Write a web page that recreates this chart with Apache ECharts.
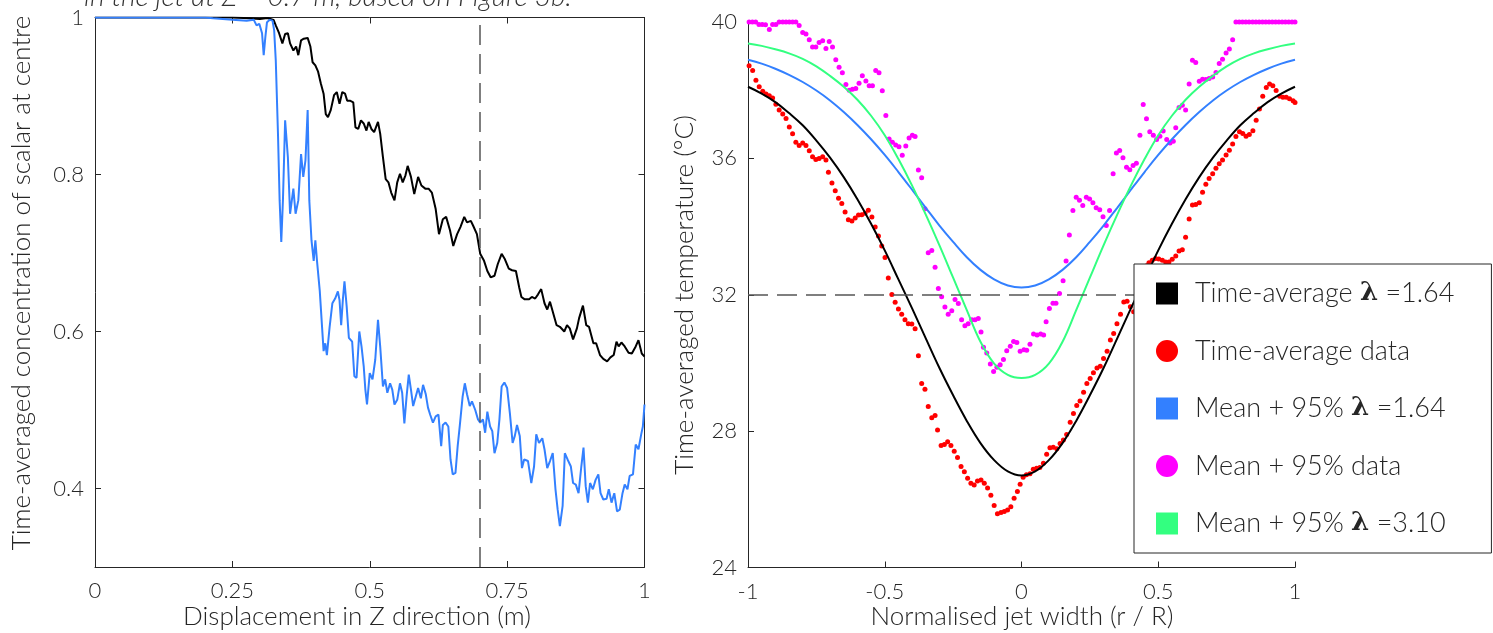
<!DOCTYPE html>
<html><head><meta charset="utf-8">
<script src="https://cdn.jsdelivr.net/npm/echarts@6/dist/echarts.min.js"></script>
<style>html,body{margin:0;padding:0;background:#fff}#c{width:1493px;height:633px}</style>
</head><body><div id="c"></div>
<script>
// ---------- LEFT PANEL DATA: [displacement (m), concentration] ----------
const timeAvgConc = [[0,1],[0.1,1],[0.2,1],[0.25,1],[0.28,0.999],[0.30,0.998],[0.31,0.999],[0.315,0.999],[0.325,0.997],[0.329,0.990],[0.335,0.980],[0.341,0.967],[0.346,0.979],[0.351,0.980],[0.355,0.967],[0.361,0.958],[0.366,0.963],[0.370,0.952],[0.375,0.971],[0.380,0.973],[0.387,0.974],[0.392,0.963],[0.396,0.943],[0.401,0.939],[0.406,0.931],[0.411,0.916],[0.416,0.903],[0.420,0.877],[0.424,0.873],[0.429,0.882],[0.435,0.901],[0.440,0.905],[0.445,0.890],[0.450,0.905],[0.455,0.903],[0.459,0.894],[0.464,0.894],[0.470,0.892],[0.474,0.860],[0.479,0.858],[0.484,0.869],[0.489,0.865],[0.494,0.856],[0.498,0.867],[0.503,0.858],[0.508,0.854],[0.515,0.867],[0.519,0.852],[0.524,0.822],[0.529,0.794],[0.534,0.790],[0.539,0.777],[0.545,0.767],[0.550,0.790],[0.555,0.801],[0.560,0.790],[0.565,0.799],[0.569,0.811],[0.575,0.797],[0.581,0.775],[0.588,0.797],[0.594,0.786],[0.601,0.782],[0.607,0.782],[0.613,0.777],[0.620,0.756],[0.626,0.724],[0.633,0.743],[0.639,0.746],[0.646,0.729],[0.652,0.709],[0.659,0.724],[0.665,0.733],[0.672,0.746],[0.677,0.739],[0.684,0.741],[0.688,0.735],[0.695,0.724],[0.701,0.699],[0.708,0.690],[0.714,0.677],[0.720,0.669],[0.727,0.671],[0.733,0.686],[0.740,0.699],[0.746,0.692],[0.753,0.680],[0.759,0.678],[0.766,0.677],[0.772,0.656],[0.776,0.644],[0.782,0.641],[0.790,0.641],[0.795,0.644],[0.801,0.642],[0.806,0.647],[0.812,0.654],[0.818,0.636],[0.823,0.628],[0.828,0.638],[0.834,0.623],[0.840,0.608],[0.846,0.606],[0.854,0.600],[0.859,0.608],[0.864,0.604],[0.870,0.590],[0.877,0.604],[0.881,0.617],[0.888,0.633],[0.894,0.608],[0.899,0.606],[0.907,0.585],[0.912,0.585],[0.919,0.570],[0.925,0.565],[0.932,0.562],[0.938,0.567],[0.944,0.570],[0.949,0.587],[0.953,0.581],[0.958,0.586],[0.964,0.581],[0.971,0.573],[0.977,0.572],[0.984,0.581],[0.989,0.589],[0.995,0.572],[1.0,0.568]];

const meanPlus95Conc = [[0,1],[0.1,1],[0.2,1],[0.215,0.999],[0.25,0.997],[0.276,0.996],[0.289,0.997],[0.294,0.990],[0.299,0.992],[0.304,0.980],[0.307,0.952],[0.310,0.975],[0.313,0.994],[0.318,0.997],[0.323,0.996],[0.326,0.984],[0.329,0.945],[0.333,0.852],[0.336,0.767],[0.339,0.714],[0.342,0.767],[0.346,0.869],[0.351,0.822],[0.355,0.750],[0.361,0.782],[0.365,0.750],[0.370,0.767],[0.375,0.826],[0.379,0.797],[0.383,0.818],[0.387,0.882],[0.390,0.767],[0.394,0.716],[0.398,0.690],[0.401,0.716],[0.404,0.690],[0.409,0.652],[0.412,0.653],[0.416,0.575],[0.419,0.585],[0.422,0.570],[0.427,0.606],[0.432,0.636],[0.437,0.642],[0.442,0.651],[0.445,0.640],[0.448,0.608],[0.451,0.640],[0.454,0.664],[0.458,0.632],[0.462,0.592],[0.468,0.587],[0.472,0.543],[0.476,0.541],[0.481,0.600],[0.485,0.581],[0.489,0.556],[0.492,0.526],[0.495,0.507],[0.500,0.547],[0.505,0.539],[0.510,0.564],[0.515,0.615],[0.519,0.581],[0.524,0.530],[0.528,0.539],[0.532,0.522],[0.537,0.534],[0.541,0.526],[0.545,0.507],[0.550,0.513],[0.555,0.534],[0.559,0.522],[0.563,0.483],[0.567,0.517],[0.571,0.545],[0.575,0.526],[0.579,0.505],[0.582,0.505],[0.588,0.528],[0.593,0.515],[0.597,0.532],[0.602,0.520],[0.606,0.503],[0.610,0.494],[0.615,0.484],[0.620,0.492],[0.625,0.494],[0.630,0.454],[0.633,0.481],[0.638,0.484],[0.643,0.479],[0.647,0.437],[0.651,0.418],[0.656,0.420],[0.660,0.454],[0.664,0.481],[0.669,0.517],[0.673,0.534],[0.677,0.520],[0.682,0.505],[0.686,0.511],[0.692,0.500],[0.697,0.488],[0.701,0.484],[0.706,0.488],[0.710,0.471],[0.714,0.498],[0.719,0.479],[0.723,0.473],[0.727,0.445],[0.732,0.458],[0.736,0.488],[0.740,0.530],[0.745,0.535],[0.750,0.528],[0.755,0.496],[0.760,0.458],[0.764,0.467],[0.768,0.481],[0.773,0.467],[0.777,0.426],[0.781,0.437],[0.788,0.435],[0.794,0.407],[0.799,0.428],[0.803,0.469],[0.808,0.458],[0.814,0.464],[0.818,0.450],[0.823,0.426],[0.828,0.435],[0.833,0.445],[0.838,0.399],[0.842,0.373],[0.846,0.352],[0.851,0.378],[0.855,0.445],[0.860,0.437],[0.866,0.428],[0.870,0.407],[0.875,0.405],[0.880,0.394],[0.885,0.428],[0.889,0.452],[0.893,0.403],[0.897,0.382],[0.901,0.407],[0.906,0.399],[0.911,0.411],[0.916,0.418],[0.920,0.394],[0.925,0.386],[0.931,0.387],[0.935,0.399],[0.940,0.382],[0.945,0.394],[0.950,0.371],[0.955,0.373],[0.960,0.394],[0.964,0.405],[0.969,0.399],[0.973,0.416],[0.979,0.418],[0.984,0.456],[0.989,0.450],[0.994,0.469],[0.997,0.479],[1.0,0.507]];

const leftXTicks = [0, 0.25, 0.5, 0.75, 1];
const leftYTicks = [0.4, 0.6, 0.8, 1];
const markerZ = 0.7;

// ---------- RIGHT PANEL DATA ----------
const widthX = [-1,-0.95,-0.9,-0.85,-0.8,-0.75,-0.7,-0.65,-0.6,-0.55,-0.5,-0.45,-0.4,-0.35,-0.3,-0.25,-0.2,-0.15,-0.1,-0.05,0,0.05,0.1,0.15,0.2,0.25,0.3,0.35,0.4,0.45,0.5,0.55,0.6,0.65,0.7,0.75,0.8,0.85,0.9,0.95,1];
const fitTimeAvg164 = [38.10,37.90,37.65,37.33,36.97,36.52,36.02,35.45,34.80,34.08,33.30,32.45,31.60,30.72,29.85,29.05,28.30,27.65,27.15,26.82,26.70,26.82,27.15,27.65,28.30,29.05,29.85,30.72,31.60,32.45,33.30,34.08,34.80,35.45,36.02,36.52,36.97,37.33,37.65,37.90,38.10];
const fitMean164    = [38.89,38.78,38.63,38.45,38.24,37.99,37.70,37.36,36.98,36.56,36.10,35.60,35.08,34.55,34.03,33.55,33.10,32.73,32.45,32.27,32.21,32.27,32.45,32.73,33.10,33.55,34.03,34.55,35.08,35.60,36.10,36.56,36.98,37.36,37.70,37.99,38.24,38.45,38.63,38.78,38.89];
const fitMean310    = [39.37,39.30,39.20,39.08,38.92,38.70,38.42,38.10,37.72,37.25,36.68,35.98,35.20,34.35,33.45,32.50,31.55,30.62,29.98,29.65,29.56,29.65,29.98,30.62,31.55,32.50,33.45,34.35,35.20,35.98,36.68,37.25,37.72,38.10,38.42,38.70,38.92,39.08,39.20,39.30,39.37];

const timeAvgData = [[-0.996,38.72],[-0.983,38.58],[-0.971,38.29],[-0.959,38.10],[-0.946,37.97],[-0.934,37.89],[-0.922,37.84],[-0.910,37.77],[-0.898,37.59],[-0.886,37.42],[-0.873,37.30],[-0.861,37.17],[-0.849,36.92],[-0.837,36.72],[-0.825,36.47],[-0.813,36.38],[-0.800,36.45],[-0.788,36.38],[-0.776,36.22],[-0.764,36.05],[-0.752,35.97],[-0.740,36.00],[-0.727,36.05],[-0.715,35.95],[-0.706,35.59],[-0.693,35.28],[-0.681,35.05],[-0.669,34.83],[-0.657,34.68],[-0.645,34.43],[-0.633,34.20],[-0.620,34.16],[-0.608,34.25],[-0.596,34.34],[-0.584,34.35],[-0.572,34.39],[-0.560,34.48],[-0.547,34.28],[-0.535,33.99],[-0.523,33.72],[-0.511,33.43],[-0.499,33.09],[-0.487,32.49],[-0.474,32.01],[-0.462,31.78],[-0.450,31.58],[-0.438,31.43],[-0.426,31.27],[-0.414,31.15],[-0.401,31.14],[-0.389,31.00],[-0.377,30.21],[-0.365,29.40],[-0.353,29.23],[-0.341,28.72],[-0.328,28.39],[-0.316,28.46],[-0.307,28.03],[-0.294,27.58],[-0.282,27.61],[-0.270,27.69],[-0.258,27.58],[-0.246,27.41],[-0.234,27.23],[-0.221,26.96],[-0.209,26.81],[-0.197,26.62],[-0.185,26.47],[-0.173,26.42],[-0.161,26.54],[-0.148,26.57],[-0.136,26.47],[-0.124,26.33],[-0.112,26.12],[-0.100,25.82],[-0.088,25.58],[-0.075,25.61],[-0.063,25.64],[-0.051,25.69],[-0.039,25.78],[-0.027,26.03],[-0.015,26.23],[-0.005,26.44],[0.006,26.65],[0.018,26.72],[0.031,26.75],[0.043,26.88],[0.055,26.91],[0.067,26.93],[0.080,27.06],[0.092,27.32],[0.104,27.51],[0.116,27.53],[0.129,27.48],[0.141,27.64],[0.153,27.74],[0.165,27.90],[0.178,28.26],[0.190,28.52],[0.202,28.75],[0.214,28.88],[0.227,29.14],[0.239,29.40],[0.251,29.54],[0.263,29.71],[0.276,29.85],[0.288,29.90],[0.300,30.13],[0.313,30.34],[0.325,30.67],[0.337,30.86],[0.349,31.15],[0.362,31.43],[0.374,31.79],[0.386,31.81],[0.398,31.65],[0.410,31.50],[0.422,31.90],[0.434,32.30],[0.446,32.60],[0.458,32.85],[0.466,32.94],[0.478,33.01],[0.490,33.06],[0.502,33.05],[0.515,33.01],[0.527,32.96],[0.539,32.96],[0.551,33.04],[0.564,33.14],[0.576,33.28],[0.588,33.32],[0.600,33.69],[0.613,34.22],[0.625,34.63],[0.637,34.65],[0.650,34.70],[0.662,35.01],[0.674,35.24],[0.686,35.41],[0.699,35.55],[0.711,35.71],[0.723,35.84],[0.735,35.95],[0.748,36.10],[0.760,36.24],[0.772,36.42],[0.784,36.64],[0.797,36.78],[0.809,36.73],[0.821,36.65],[0.833,36.70],[0.846,36.81],[0.858,37.12],[0.870,37.45],[0.882,37.82],[0.895,38.08],[0.907,38.18],[0.919,38.13],[0.931,37.99],[0.944,37.82],[0.956,37.79],[0.968,37.79],[0.980,37.75],[0.993,37.69],[1.0,37.64]];

const meanPlus95Data = [[-0.996,40.0],[-0.984,40.0],[-0.972,40.0],[-0.960,39.93],[-0.948,39.93],[-0.936,39.92],[-0.922,39.78],[-0.910,39.93],[-0.898,39.93],[-0.886,40.0],[-0.873,40.0],[-0.861,40.0],[-0.849,40.0],[-0.837,40.0],[-0.825,40.0],[-0.813,39.9],[-0.800,39.69],[-0.788,39.65],[-0.776,39.48],[-0.764,39.27],[-0.752,39.27],[-0.740,39.40],[-0.727,39.45],[-0.715,39.22],[-0.703,39.43],[-0.691,39.27],[-0.679,38.89],[-0.667,38.67],[-0.655,38.51],[-0.642,38.17],[-0.630,38.00],[-0.618,38.03],[-0.606,38.05],[-0.594,38.20],[-0.582,38.42],[-0.569,38.27],[-0.557,38.13],[-0.545,38.13],[-0.533,38.58],[-0.521,38.51],[-0.509,37.98],[-0.496,37.26],[-0.484,36.57],[-0.472,36.47],[-0.460,36.39],[-0.448,36.34],[-0.436,36.09],[-0.423,36.36],[-0.411,36.60],[-0.399,36.68],[-0.389,36.64],[-0.377,35.66],[-0.365,35.43],[-0.353,34.52],[-0.341,33.23],[-0.328,33.30],[-0.316,32.81],[-0.304,32.18],[-0.292,31.94],[-0.280,31.64],[-0.268,31.43],[-0.255,31.53],[-0.243,31.86],[-0.231,31.74],[-0.219,31.27],[-0.207,31.09],[-0.195,31.15],[-0.182,31.27],[-0.170,31.27],[-0.158,31.30],[-0.148,30.91],[-0.139,30.46],[-0.127,30.29],[-0.114,29.97],[-0.102,29.75],[-0.090,29.87],[-0.078,29.95],[-0.066,30.10],[-0.054,30.36],[-0.041,30.49],[-0.029,30.63],[-0.017,30.60],[-0.005,30.34],[0.009,30.39],[0.019,30.37],[0.031,30.55],[0.044,30.85],[0.057,30.82],[0.070,30.85],[0.081,30.82],[0.090,31.21],[0.102,31.60],[0.115,31.75],[0.126,31.75],[0.139,32.04],[0.152,32.41],[0.163,32.99],[0.175,33.75],[0.188,34.47],[0.200,34.86],[0.212,34.77],[0.224,34.62],[0.237,34.86],[0.249,34.81],[0.261,34.70],[0.273,34.55],[0.286,34.49],[0.298,34.29],[0.310,34.03],[0.322,34.47],[0.335,35.55],[0.347,36.16],[0.359,36.23],[0.371,36.02],[0.384,35.74],[0.396,35.67],[0.408,35.79],[0.420,35.86],[0.433,36.68],[0.445,37.58],[0.457,37.16],[0.469,36.78],[0.482,36.68],[0.494,36.55],[0.506,36.65],[0.518,36.80],[0.531,36.55],[0.543,36.45],[0.555,36.50],[0.564,36.90],[0.576,37.49],[0.588,37.56],[0.600,37.42],[0.613,38.18],[0.625,38.88],[0.637,38.81],[0.650,38.26],[0.662,38.32],[0.674,38.31],[0.686,38.34],[0.699,38.39],[0.711,38.52],[0.723,38.78],[0.735,38.91],[0.748,39.09],[0.760,39.21],[0.772,39.48],[0.784,40],[0.796,40],[0.808,40],[0.820,40],[0.832,40],[0.845,40],[0.857,40],[0.869,40],[0.881,40],[0.893,40],[0.905,40],[0.917,40],[0.929,40],[0.941,40],[0.953,40],[0.965,40],[0.977,40],[0.989,40],[1.0,40]];

const rightXTicks = [-1, -0.5, 0, 0.5, 1];
const rightYTicks = [24, 28, 32, 36, 40];
const referenceTemp = 32;

const legendNames = ['Time-average λ =1.64', 'Time-average data', 'Mean + 95% λ =1.64', 'Mean + 95% data', 'Mean + 95% λ =3.10'];

// ---------- STYLE ----------
const FONT = "Lato, 'Open Sans', 'DejaVu Sans', sans-serif";
const TXT = '#262626';
const AX = '#262626';
const BLUE = '#3380ff', GREEN = '#33ff80', RED = '#ff0000', MAG = '#ff00ff';
const FW = 300;

function pairs(xs, ys){ return xs.map((x,i)=>[x, ys[i]]); }

const chart = echarts.init(document.getElementById('c'));

const lineAx = {show:true, onZero:false, lineStyle:{color:AX, width:1}};
const tickIn = {show:true, inside:true, length:6, lineStyle:{color:AX, width:1}};
const lbl = {color:TXT, fontSize:22, fontFamily:FONT, fontWeight:FW};
const titleFont = FW + " 26px " + FONT;

const option = {
  animation:false,
  backgroundColor:'#fff',
  grid:[
    {left:95, top:17.5, width:549.5, height:549.5},
    {left:748, top:22, width:547, height:545.5}
  ],
  xAxis:[
    {gridIndex:0, type:'value', min:0, max:1, interval:0.25, position:'bottom',
     axisLine:lineAx, axisTick:tickIn, splitLine:{show:false},
     axisLabel:Object.assign({margin:13, customValues:leftXTicks}, lbl)},
    {gridIndex:0, type:'value', min:0, max:1, interval:0.25, position:'top',
     axisLine:lineAx, axisTick:tickIn, splitLine:{show:false}, axisLabel:{show:false}},
    {gridIndex:1, type:'value', min:-1, max:1, interval:0.5, position:'bottom',
     axisLine:lineAx, axisTick:tickIn, splitLine:{show:false},
     axisLabel:Object.assign({margin:13, customValues:rightXTicks}, lbl)}
  ],
  yAxis:[
    {gridIndex:0, type:'value', min:0.3, max:1, position:'left',
     axisLine:lineAx, axisTick:Object.assign({customValues:leftYTicks}, tickIn), splitLine:{show:false},
     axisLabel:Object.assign({margin:11, customValues:leftYTicks}, lbl)},
    {gridIndex:0, type:'value', min:0.3, max:1, position:'right',
     axisLine:lineAx, axisTick:Object.assign({customValues:leftYTicks}, tickIn), splitLine:{show:false}, axisLabel:{show:false}},
    {gridIndex:1, type:'value', min:24, max:40, interval:4, position:'left',
     axisLine:lineAx, axisTick:tickIn, splitLine:{show:false},
     axisLabel:Object.assign({margin:11, customValues:rightYTicks}, lbl)}
  ],
  legend:{
    orient:'vertical', left:1134, top:264, z:100,
    padding:[16, 37, 16, 22], itemGap:30.5, itemWidth:22, itemHeight:22,
    borderColor:'#262626', borderWidth:1, backgroundColor:'#fff',
    selectedMode:false,
    textStyle:{fontSize:27, color:TXT, fontFamily:FONT, fontWeight:FW, lineHeight:26, padding:[0,0,0,12],
      rich:{b:{fontWeight:'bold', fontSize:26, lineHeight:26, color:TXT, fontFamily:"'DejaVu Serif', serif"}}},
    formatter:function(n){ return n.replace('λ', '{b|λ}'); },
    data:[
      {name:legendNames[0], icon:'rect'},
      {name:legendNames[1], icon:'circle'},
      {name:legendNames[2], icon:'rect'},
      {name:legendNames[3], icon:'circle'},
      {name:legendNames[4], icon:'rect'}
    ]
  },
  graphic:[
    {type:'text', left:84, top:-17.5, z:10, style:{text:'in the jet at Z = 0.7 m, based on Figure 3b.', font:"italic " + FW + " 28px " + FONT, fill:'#333'}},
    {type:'text', x:22, y:283, rotation:Math.PI/2, style:{text:'Time-averaged concentration of scalar at centre', font:titleFont, fill:TXT, textAlign:'center', textVerticalAlign:'middle', align:'center', verticalAlign:'middle'}},
    {type:'text', x:357, y:617, style:{text:'Displacement in Z direction (m)', font:titleFont, fill:TXT, textAlign:'center', textVerticalAlign:'middle', align:'center', verticalAlign:'middle'}},
    {type:'text', x:685, y:295, rotation:Math.PI/2, style:{text:'Time-averaged temperature (°C)', font:titleFont, fill:TXT, textAlign:'center', textVerticalAlign:'middle', align:'center', verticalAlign:'middle'}},
    {type:'text', x:1022, y:617, style:{text:'Normalised jet width (r / R)', font:titleFont, fill:TXT, textAlign:'center', textVerticalAlign:'middle', align:'center', verticalAlign:'middle'}}
  ],
  series:[
    {name:'conc-time-average', type:'line', xAxisIndex:0, yAxisIndex:0, data:timeAvgConc,
     showSymbol:false, lineStyle:{color:'#000', width:2}, itemStyle:{color:'#000'}, z:3,
     markLine:{silent:true, symbol:'none', label:{show:false}, animation:false,
       lineStyle:{type:[20,9], color:'#555', width:1.5}, data:[{xAxis:markerZ}]}},
    {name:'conc-mean-95', type:'line', xAxisIndex:0, yAxisIndex:0, data:meanPlus95Conc,
     showSymbol:false, lineStyle:{color:BLUE, width:2}, itemStyle:{color:BLUE}, z:3},

    {name:legendNames[1], type:'scatter', xAxisIndex:2, yAxisIndex:2, data:timeAvgData,
     symbol:'circle', symbolSize:5, itemStyle:{color:RED, opacity:1}, z:2},
    {name:legendNames[3], type:'scatter', xAxisIndex:2, yAxisIndex:2, data:meanPlus95Data,
     symbol:'circle', symbolSize:5, itemStyle:{color:MAG, opacity:1}, z:2},
    {name:legendNames[0], type:'line', xAxisIndex:2, yAxisIndex:2, data:pairs(widthX, fitTimeAvg164),
     smooth:0.4, showSymbol:false, lineStyle:{color:'#000', width:2}, itemStyle:{color:'#000'}, z:3,
     markLine:{silent:true, symbol:'none', label:{show:false}, animation:false,
       lineStyle:{type:[20,9], color:'#555', width:1.5}, data:[{yAxis:referenceTemp}]}},
    {name:legendNames[2], type:'line', xAxisIndex:2, yAxisIndex:2, data:pairs(widthX, fitMean164),
     smooth:0.4, showSymbol:false, lineStyle:{color:BLUE, width:2}, itemStyle:{color:BLUE}, z:3},
    {name:legendNames[4], type:'line', xAxisIndex:2, yAxisIndex:2, data:pairs(widthX, fitMean310),
     smooth:0.4, showSymbol:false, lineStyle:{color:GREEN, width:2}, itemStyle:{color:GREEN}, z:3}
  ]
};
chart.setOption(option);
</script></body></html>
